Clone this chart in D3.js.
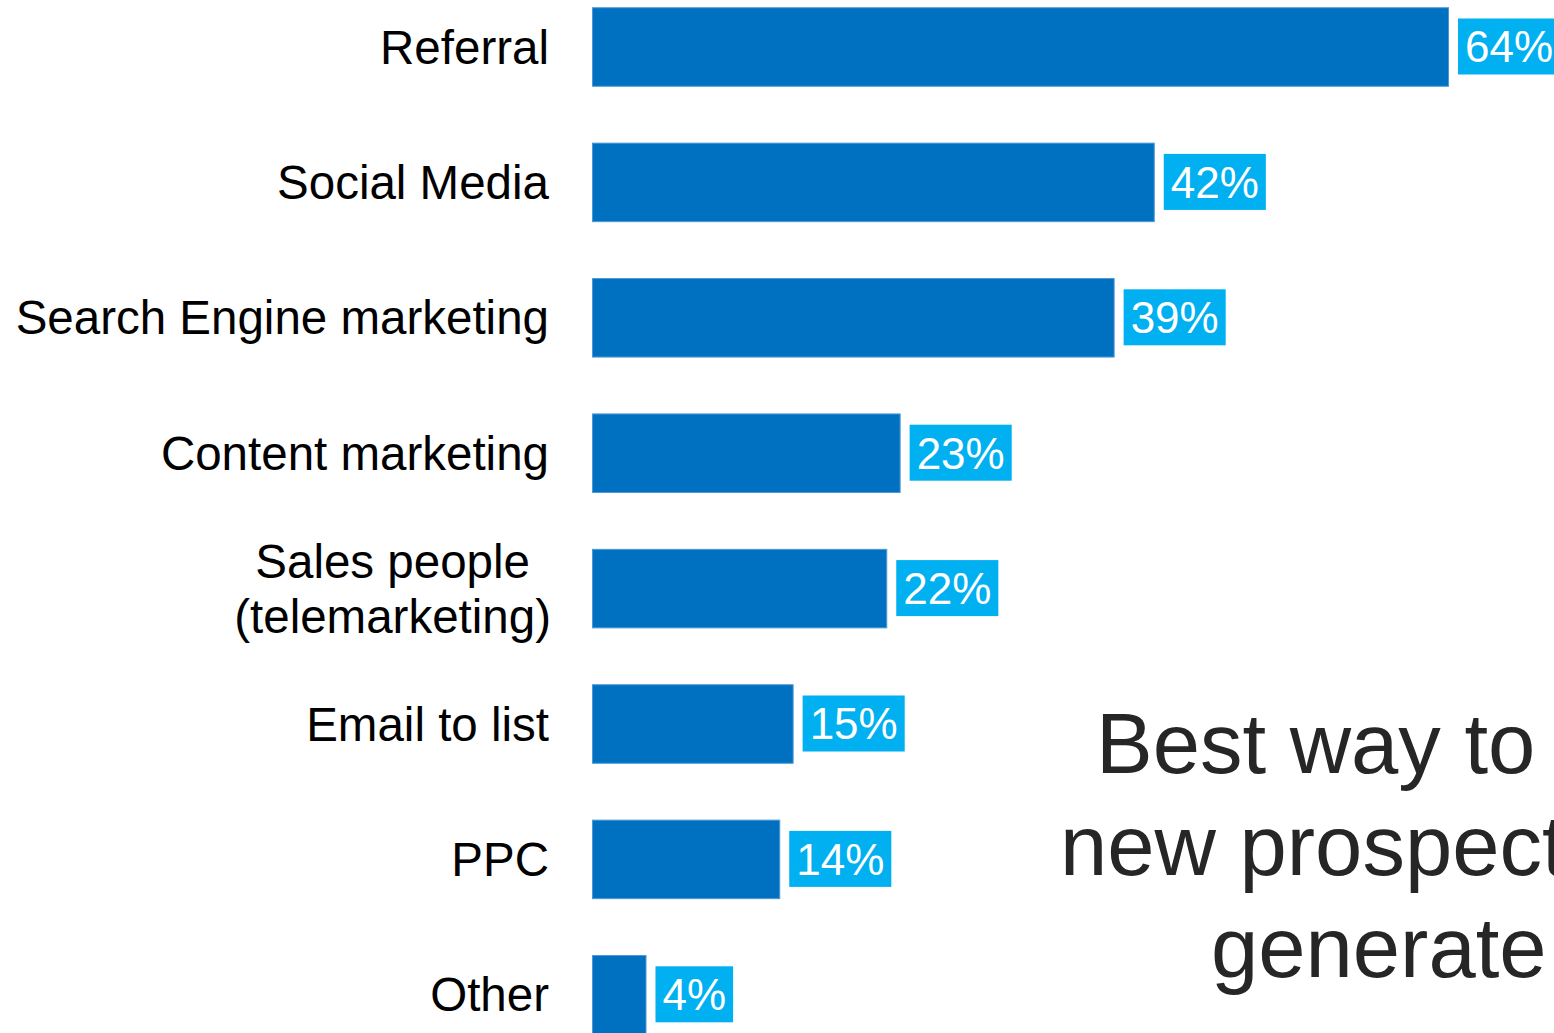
<!DOCTYPE html>
<html>
<head>
<meta charset="utf-8">
<script src="https://cdn.jsdelivr.net/npm/d3@7"></script>
<style>
  html, body { margin: 0; padding: 0; background: #ffffff; overflow: hidden; }
  svg { display: block; }
</style>
</head>
<body>
<svg id="chart" width="1554" height="1033"></svg>
<script>
// Lead-generation channels and the share of respondents picking each one
const categories = [
  "Referral",
  "Social Media",
  "Search Engine marketing",
  "Content marketing",
  "Sales people\n(telemarketing)",
  "Email to list",
  "PPC",
  "Other"
];
const values = [64, 42, 39, 23, 22, 15, 14, 4];
const valueLabels = ["64%", "42%", "39%", "23%", "22%", "15%", "14%", "4%"];
const titleLines = ["Best way to", "new prospects", "generate"];

const W = 1554, H = 1033;
const svg = d3.select("#chart");

const barColor = "#0070C0";
const boxColor = "#00B0F0";
const font = "'Liberation Sans', Arial, Helvetica, sans-serif";

// Horizontal value scale: bars start at x = 592
const x = d3.scaleLinear().domain([0, 100]).range([592, 1929.5]);

// Vertical band scale for the rows
const y = d3.scaleBand()
  .domain(categories)
  .range([-21.2, 1062])
  .paddingInner(0.42)
  .paddingOuter(0.21);

const rows = categories.map((c, i) => ({ cat: c, value: values[i], label: valueLabels[i] }));

// Bars
svg.append("g")
  .selectAll("rect")
  .data(rows)
  .join("rect")
  .attr("x", d => x(0) + 0.5)
  .attr("y", d => y(d.cat) + 0.5)
  .attr("width", d => x(d.value) - x(0))
  .attr("height", y.bandwidth())
  .attr("fill", barColor)
  .attr("stroke", "#4f98d6")
  .attr("stroke-width", 1);

// Value tags: cyan box with white percentage
const tagFont = 44, tagPad = 7, tagH = 56;
const tags = svg.append("g")
  .selectAll("g")
  .data(rows)
  .join("g")
  .attr("transform", d => `translate(${x(d.value) + 10},${y(d.cat) + y.bandwidth() / 2})`);

const tagRects = tags.append("rect")
  .attr("y", -tagH / 2)
  .attr("height", tagH)
  .attr("fill", boxColor);

const tagTexts = tags.append("text")
  .attr("x", tagPad)
  .attr("y", tagFont * 0.36)
  .attr("font-family", font)
  .attr("font-size", tagFont)
  .attr("fill", "#ffffff")
  .text(d => d.label);

tagTexts.each(function (d, i) {
  const w = this.getComputedTextLength();
  d3.select(tagRects.nodes()[i]).attr("width", w + tagPad * 2);
});

// Category labels, right aligned to the axis
const labelFont = 47.5, labelRight = 549, lineGap = 55;
const labels = svg.append("g")
  .selectAll("text")
  .data(rows)
  .join("text")
  .attr("font-family", font)
  .attr("font-size", labelFont)
  .attr("fill", "#000000");

labels.each(function (d) {
  const t = d3.select(this);
  const lines = d.cat.split("\n");
  const cy = y(d.cat) + y.bandwidth() / 2;
  if (lines.length === 1) {
    t.attr("text-anchor", "end")
      .attr("x", labelRight)
      .attr("y", cy + 17)
      .text(lines[0]);
  } else {
    // multi-line labels are centred as a block that ends at the label edge
    const spans = lines.map((ln, k) => t.append("tspan")
      .attr("x", 0)
      .attr("y", cy + 17 + (k - (lines.length - 1) / 2) * lineGap)
      .text(ln));
    const maxW = d3.max(spans, s => s.node().getComputedTextLength());
    t.attr("text-anchor", "middle");
    spans.forEach(s => s.attr("x", labelRight - maxW / 2 + 2));
  }
});

// Title block in the lower right, running off the right edge
const titleX = [1096, 1060, 1211];
const titleBase = [773, 875, 977];
svg.append("g")
  .selectAll("text")
  .data(titleLines)
  .join("text")
  .attr("x", (d, i) => titleX[i])
  .attr("y", (d, i) => titleBase[i])
  .attr("font-family", font)
  .attr("font-size", 85)
  .attr("fill", "#262626")
  .text(d => d);
</script>
</body>
</html>
